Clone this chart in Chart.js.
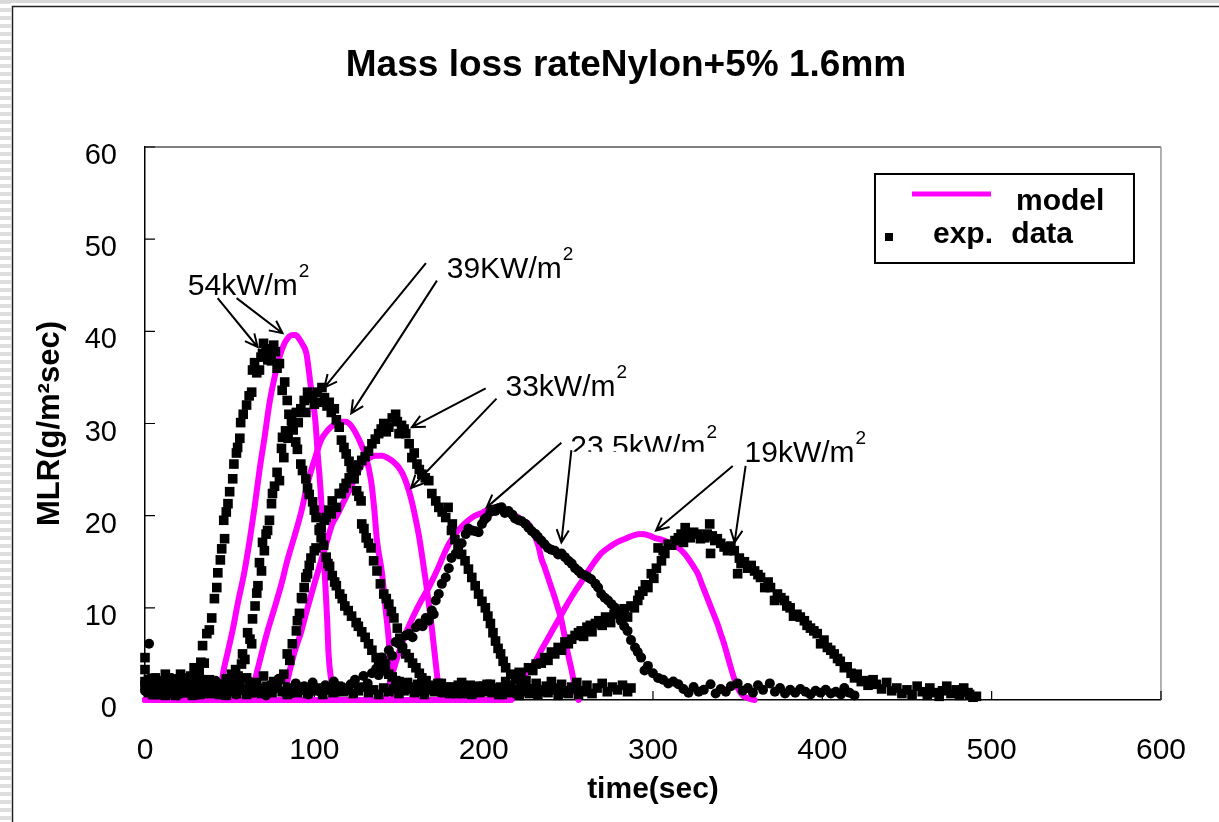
<!DOCTYPE html>
<html>
<head>
<meta charset="utf-8">
<title>Mass loss rate Nylon+5% 1.6mm</title>
<script src="https://cdn.jsdelivr.net/npm/chart.js@4.4.1/dist/chart.umd.min.js"></script>
<style>
  html, body { margin: 0; padding: 0; background: #fff; }
  #wrap { width: 1219px; height: 822px; }
</style>
</head>
<body>
<div id="wrap"><canvas id="mlrChart" width="1219" height="822"></canvas></div>
<script>
const FONT = '"Liberation Sans", Arial, Helvetica, sans-serif';
const MAGENTA = '#ff00ff';

const chartTitle = 'Mass loss rateNylon+5% 1.6mm';
const xTitle = 'time(sec)';
const yTitle = 'MLR(g/m\u00b2sec)';
const xTicks = [0, 100, 200, 300, 400, 500, 600];
const yTicks = [0, 10, 20, 30, 40, 50, 60];

// model curves, [time (s), MLR (g/m2 s)]
const model54 = [[0,0],[44,0],[46,2.8],[49,5.3],[52,7.8],[54.7,10.4],[58.8,14],[61.8,17.3],[64.7,20.9],[67.6,24.9],[70.6,28.5],[73.5,32.2],[76.5,35],[79.4,37.2],[82.4,38.7],[85,39.4],[87,39.6],[89,39.6],[91,39.2],[93,38.6],[95.3,37.6],[98,33.9],[100.6,30.3],[102,26.7],[103.6,23],[104.7,19.5],[105.5,15.9],[106.6,12.2],[107.6,8.6],[108.4,5],[110,2.1],[111,0.8],[112,0]];
const model39 = [[0,0],[62,0],[64.7,2],[68.8,5],[72.4,7.5],[76.5,10],[80.6,12.6],[84,15.1],[88,17.6],[92.4,20.5],[96,23.5],[100,26],[104,28.2],[107.6,29.2],[111,29.8],[115,30.2],[118.6,30.2],[122,29.7],[126.5,28.2],[130.6,26.3],[133.5,23.8],[135.3,20.9],[137,17.3],[140,13.7],[142,10],[144,6.4],[145,3.5],[146,1.7],[147,0]];
const model33 = [[0,0],[82,0],[84,2],[88,5],[92.4,7.5],[96,10],[100,12.6],[104,15.1],[107.6,17.3],[110.6,19.1],[113,19.9],[117.6,21.6],[120.6,22.7],[124,24.1],[128,25.5],[132,26.2],[136,26.5],[140,26.5],[144,26.2],[147,25.8],[150,25.2],[153,24.2],[156,22.6],[158,21.2],[160,19.5],[161.8,17.8],[163.5,15.8],[165,13.9],[166.5,12],[168,9.9],[169.4,7.8],[170.6,5.8],[171.7,4],[172.6,2.5],[173.5,1.2],[174.5,0]];
const model23 = [[0,0],[141,0],[144,1.5],[147,3.4],[150,5.2],[153,6.8],[156,8.1],[159,9.3],[162,10.4],[165,11.4],[167.6,12.2],[170.5,13.3],[173.5,14.5],[176.5,15.8],[179.4,16.9],[182,17.7],[185,18.4],[188,19],[191,19.5],[195,20],[199,20.3],[202,20.6],[205,20.7],[209,20.7],[213,20.5],[217,20.2],[220.6,19.8],[223.5,19.4],[226.5,19.1],[228.5,18.5],[230.6,17.6],[232.5,16.6],[234,15.4],[236,14.4],[238,13.3],[240,12.2],[242,11.1],[244,9.9],[246,8.6],[247.5,7.2],[249,5.7],[250.5,4.4],[252,3.2],[253,2.2],[254,1.3],[255,0.5],[256,0]];
const model19 = [[0,0],[216,0],[219,0.6],[222,2],[226,3.1],[230.6,4.2],[234,5.4],[238,6.7],[242,8],[246,9.3],[250,10.6],[254,11.8],[258,12.9],[261.8,14],[265.5,15],[269.4,15.9],[273.5,16.5],[277.6,17],[281,17.3],[285,17.6],[289,17.9],[293,18],[297,17.9],[301,17.6],[305,17.4],[309,17.1],[312,16.8],[315,16.5],[318,16],[320.6,15.4],[323.5,14.6],[326.5,13.7],[329,12.5],[332,11.1],[335,9.7],[338,8.3],[340,7.2],[342,6.1],[344,4.8],[346,3.5],[348,2.3],[350,1.3],[353,0.5],[356,0.2],[360,0]];

// measured points, [time (s), MLR (g/m2 s)]
const exp54 = [[0,4.6],[1,1.5],[2,2.2],[3,0.9],[4,1.8],[5,1.1],[6,2.4],[7,0.7],[8,1.6],[9,1.2],[10,2.0],[11,0.8],[12,2.8],[13,1.4],[14,1.0],[15,2.1],[16,1.3],[17,0.9],[18,1.7],[19,2.3],[20,1.1],[21,2.8],[22,1.5],[23,1.9],[24,1.2],[25,2.4],[26,1.8],[27,2.6],[28,2.2],[29,3.5],[30,2.9],[31,2.5],[32,3.2],[33,4.1],[34,5.9],[35,4.0],[36.5,7.2],[38,7.6],[39.4,8.9],[41,11.0],[42.4,12.2],[43,13.8],[44.5,15.2],[45.3,16.4],[46.5,19.5],[47,17.5],[48,20.4],[49,21.3],[50,22.6],[51.8,24.0],[52.5,25.6],[54,26.8],[54.7,27.4],[56,28.4],[56.5,30.1],[58,31.0],[60,32.0],[61.5,33.0],[63,33.4],[63.5,35.8],[64.7,36.6],[66,35.5],[67.6,35.8],[68.5,37.2],[69.4,37.6],[70,38.7],[71.5,38.1],[72.5,36.9],[74,37.4],[74.7,36.8],[76,38.5],[77,37.8],[78,36.0],[79.4,36.5],[81,33.6],[82.5,34.5],[84,32.5],[85,31.0],[87,29.5],[89,28.0],[90,27.2],[92,25.6],[93,24.9],[95,24.0],[96,23.0],[97,22.3],[99,21.5],[100,20.6],[101,19.8],[103,18.5],[104,17.6],[105.5,16.8],[107,15.5],[108,14.8],[109,14.5],[110.6,13.5],[112,12.8],[113,12.4],[115,11.5],[116.5,11.0],[118,10.2],[120,9.7],[122,9.1],[124.7,8.4],[126,8.0],[128,7.4],[130,6.8],[132,6.1],[134,5.4],[136.5,4.6],[138,4.2],[140,3.7],[142,3.2],[144,2.8],[146,2.5],[148,2.1],[150,2.0],[152,1.6],[155,1.9],[158,1.2],[161,1.7],[164,0.9],[167,1.5],[170,1.1],[173,1.8],[176,0.8],[179,1.4],[182,1.0],[185,1.6],[188,0.7],[191,1.3],[194,1.1],[197,0.8],[200,1.5],[203,0.9],[206,1.2],[209,0.6],[212,1.3],[215,0.8],[218,1.1],[221,0.5],[224,1.0],[227,0.7],[230,0.9]];
const exp39 = [[0,3.3],[1.5,1.0],[3,1.9],[4.5,0.6],[6,1.4],[7.5,2.1],[9,1.0],[10.5,1.7],[12,0.5],[13.5,1.3],[15,2.0],[16.5,0.9],[18,1.5],[19.5,0.7],[21,1.2],[22.5,1.9],[24,0.8],[25.5,1.4],[27,1.0],[28.5,1.8],[30,0.6],[31.5,1.3],[33,2.2],[34.5,1.0],[36,1.6],[37.5,0.8],[39,1.4],[40.5,2.0],[42,1.1],[43.5,1.7],[45,0.9],[46.5,1.5],[48,2.3],[49.5,1.2],[51,2.8],[52,2.1],[53.5,3.3],[55,2.6],[57,3.9],[57.6,5.0],[59,4.4],[60.6,7.3],[62,6.6],[63,6.1],[63.5,8.8],[65,10.2],[66,11.6],[66.7,12.4],[67.6,14.9],[68.8,14.0],[69.4,17.1],[70.5,16.2],[71.5,18.0],[72.4,18.4],[73.5,19.5],[74.7,21.3],[75.3,22.4],[76.5,23.2],[78,24.7],[79.4,23.8],[80.6,27.3],[81.2,28.5],[82,26.3],[83,29.2],[84.5,28.4],[86.5,30.3],[87.5,29.3],[89.4,31.2],[90.5,30.1],[92,31.6],[94,32.5],[95,31.2],[96,33.4],[97.5,32.7],[99,33.0],[100,32.1],[101.8,33.4],[103,32.3],[104.5,33.9],[106,32.8],[107.5,31.9],[108.8,32.3],[110,31.2],[111.8,31.6],[113,30.4],[114.7,29.6],[116,28.2],[117.5,27.4],[118.8,26.7],[120.5,25.9],[121.8,25.2],[123.5,24.0],[125,22.7],[126.3,22.1],[127.6,21.6],[128,19.1],[129.3,18.6],[130.6,17.6],[132,17.0],[133.5,16.5],[135,15.1],[137,14.0],[139,12.6],[141,11.5],[142.5,11.0],[144,10.4],[145.5,9.6],[147,8.9],[149,7.8],[150.5,6.7],[152,5.6],[154,5.0],[156,4.6],[158,4.0],[160,3.5],[162,2.9],[163.5,2.4],[166,2.1],[169,1.6],[172,1.2],[175,1.8],[178,0.9],[181,1.4],[184,0.7],[187,1.9],[190,1.1],[193,0.6],[196,1.5],[199,1.0],[202,1.7],[205,0.8],[208,1.3],[211,0.6],[214,1.6],[217,1.0],[220,0.7],[223,1.4],[226,0.9],[229,1.2],[232,0.6],[235,1.1],[238,0.8],[241,1.3],[244,0.5],[247,1.0],[250,0.7],[253,1.2],[256,0.6],[259,0.9]];
const exp33 = [[0,1.6],[2,0.8],[4,2.3],[6,1.2],[8,0.6],[10,1.8],[12,1.0],[14,2.4],[16,0.7],[18,1.5],[20,1.1],[22,2.0],[24,0.9],[26,1.6],[28,0.5],[30,1.3],[32,1.9],[34,0.8],[36,1.4],[38,2.2],[40,1.0],[42,1.7],[44,0.6],[46,1.2],[48,2.0],[50,0.9],[52,1.5],[54,0.7],[56,1.8],[58,1.1],[60,2.4],[62,1.3],[64,0.8],[66,1.9],[68,1.2],[70,2.6],[72,1.5],[74,0.9],[76,2.0],[78,1.4],[80,2.2],[82,2.8],[84,5.0],[85.5,4.3],[87,6.1],[89.4,7.5],[90,8.6],[91.2,9.4],[92.4,11.1],[93,11.0],[94,12.2],[95,13.3],[96,13.7],[97,14.6],[98,15.4],[100,16.2],[101,16.5],[103,18.4],[104,18.7],[106,19.5],[107,19.8],[108.5,20.6],[110,20.2],[110.6,21.6],[113,20.9],[114.7,22.4],[116,22.4],[117.5,23.0],[118.8,23.5],[120.6,24.1],[122.5,24.5],[124.7,24.9],[126,25.5],[128,26.0],[130,26.4],[132,27.0],[134,27.8],[136,28.3],[138,28.9],[139.5,29.4],[141,30.0],[142.5,29.1],[144,29.6],[146,30.6],[148,31.0],[149,30.2],[150,28.9],[151.5,29.8],[153,29.4],[154,28.9],[156,27.8],[157.6,26.3],[159,26.8],[160.6,25.6],[162,25.0],[163.5,24.5],[165.5,24.1],[167.6,23.8],[169.4,22.4],[171.7,21.6],[173.5,20.9],[175.5,20.4],[177.6,19.8],[179,20.9],[181,18.4],[181.5,19.1],[183,17.4],[185,16.5],[187,15.8],[189,15.1],[191,14.2],[193,13.3],[195,12.4],[197,11.5],[199,10.7],[201,10.0],[202.5,9.1],[204,8.3],[205.5,7.3],[207,6.4],[208.5,5.6],[210,5.0],[211.5,4.2],[213,3.5],[216,2.8],[219,2.4],[222,1.6],[225,2.1],[228,1.2],[231,1.8],[234,0.9],[237,1.5],[240,2.0],[243,1.1],[246,1.7],[249,0.8],[252,1.4],[255,1.9],[258,1.0],[261,1.6],[264,0.7],[267,1.3],[270,1.8],[273,0.9],[276,1.4],[279,1.1],[282,1.6],[285,0.9],[287,1.3]];
const exp23 = [[0,1.0],[2.4,6.1],[4,1.8],[6.5,0.7],[9,1.4],[11.5,2.2],[14,0.9],[16.5,1.6],[19,0.5],[21.5,1.2],[24,2.0],[26.5,0.8],[29,1.5],[31.5,1.1],[34,0.6],[36.5,1.7],[39,1.0],[41.5,2.1],[44,0.7],[46.5,1.3],[49,0.9],[51.5,1.8],[54,0.6],[56.5,1.4],[59,1.0],[61.5,2.0],[64,0.8],[66.5,1.5],[69,1.1],[71.5,0.5],[74,1.6],[76.5,1.2],[79,2.3],[81.5,0.9],[84,1.4],[86.5,0.7],[89,1.8],[91.5,1.0],[94,1.5],[96.5,0.6],[99,1.9],[101.5,1.2],[104,0.8],[106.5,1.6],[109,1.1],[111.5,2.0],[114,0.9],[116.5,1.4],[119,1.0],[121.5,1.7],[124,2.2],[126.5,1.3],[129,2.6],[131.5,1.8],[134,2.9],[136.5,3.4],[138,2.7],[140,4.6],[142,4.0],[144,5.4],[146,4.8],[148,6.3],[150,6.1],[152,5.8],[154,7.0],[156,7.2],[158,6.8],[160,7.9],[162,8.3],[164,8.0],[165.8,8.9],[167.6,8.6],[169.4,9.7],[170.5,9.3],[171.7,10.8],[173.5,11.5],[175.3,12.6],[177.6,13.3],[179.4,14.3],[181,15.4],[183.5,15.9],[185,16.6],[187,17.0],[189.4,18.0],[191,18.6],[193,18.4],[195,18.3],[197,18.2],[199,19.1],[200.5,19.6],[201.8,19.8],[204,20.4],[207,20.5],[209,20.8],[210.6,20.9],[212.5,20.3],[214.7,20.5],[217,20.1],[218.5,19.7],[220.6,19.5],[222.5,19.4],[224.7,19.1],[226.5,18.7],[228.5,18.3],[230.6,18.0],[232,17.7],[234,17.3],[236,16.9],[238,16.5],[240,16.3],[242,16.2],[244,15.8],[246,15.9],[248,15.5],[250,15.1],[252,14.8],[254,14.3],[256,14.0],[257.6,13.7],[260,13.5],[261.8,13.3],[263.5,13.1],[266,12.6],[267.6,12.2],[269.4,11.5],[271.5,11.1],[273.5,10.8],[275.5,10.4],[277.6,10.0],[279.5,9.3],[281,8.6],[283,8.0],[285,7.5],[287,6.5],[289.4,5.7],[291,5.2],[293,4.6],[295,3.2],[297,3.7],[300,2.9],[303,2.4],[306,2.2],[309,1.8],[312,2.0],[315,1.7],[318,1.2],[321,0.8],[324,1.4],[327,0.9],[330,1.1],[334,1.7],[337,0.7],[340,1.2],[343,0.9],[346,1.5],[350,1.8],[353,1.0],[356,1.3],[359,0.8],[362,1.6],[365,1.1],[369,1.8],[372,0.9],[375,1.3],[378,0.7],[381,1.1],[384,0.8],[387,1.2],[390,0.9],[393,0.6],[396,1.0],[399,0.8],[402,1.1],[405,0.7],[408,0.9],[411,0.6],[413,1.3],[416,0.8],[419,0.5]];
const exp19 = [[0,2.0],[3,1.1],[6,0.6],[9,1.5],[12,0.9],[15,1.3],[18,0.5],[21,1.1],[24,0.8],[27,1.4],[30,0.6],[33,1.0],[36,1.6],[39,0.7],[42,1.2],[45,0.9],[48,0.5],[51,1.3],[54,0.8],[57,1.1],[60,0.6],[63,1.4],[66,0.9],[69,0.7],[72,1.2],[75,0.8],[78,1.5],[81,0.9],[84,0.6],[87,1.2],[90,0.8],[93,1.4],[96,0.7],[99,1.0],[102,1.3],[105,0.6],[108,1.1],[111,0.8],[114,1.5],[117,0.9],[120,1.2],[123,0.7],[126,1.0],[129,1.4],[132,0.8],[135,1.1],[138,0.6],[141,1.3],[144,0.9],[147,1.2],[150,0.7],[153,1.0],[156,1.4],[159,0.8],[162,1.1],[165,0.6],[168,1.3],[171,0.9],[174,1.5],[177,1.0],[180,0.7],[183,1.2],[186,1.4],[189,0.8],[192,1.6],[195,1.1],[198,0.9],[201,1.3],[204,1.7],[207,1.0],[210,1.4],[213,2.0],[216,1.3],[219,2.2],[221,3.0],[222,2.6],[224,2.1],[226.5,3.5],[229,3.2],[231,3.9],[234,4.0],[236,4.6],[238,4.3],[240,5.2],[242,5.0],[244,5.7],[246,5.4],[248,6.3],[250,6.1],[252,6.6],[254,7.0],[256,7.3],[257.6,7.5],[259,6.9],[261,7.9],[263,8.1],[264,7.4],[266,8.3],[268,8.6],[270,8.1],[272,9.0],[273.5,8.9],[275,8.4],[277,9.3],[279,9.6],[281,9.3],[283,9.9],[285,9.0],[287,10.2],[289,10.0],[291,10.8],[292,11.4],[294,11.8],[295.5,12.5],[297,12.2],[299,13.7],[300.5,13.2],[302,14.3],[303,16.5],[305,15.1],[306,16.2],[307,15.9],[309,16.9],[311,16.8],[313,17.3],[315,17.6],[316.6,18.0],[318,17.1],[319,18.7],[321,17.9],[322,17.6],[324,18.2],[326.5,18.0],[328,17.5],[330.6,17.6],[332,18.0],[333.5,19.1],[334,15.9],[335,17.8],[336.5,17.3],[338,17.5],[340,17.0],[342,16.6],[344,16.2],[346,16.7],[348,16.2],[350,13.7],[351,15.4],[352,14.8],[354,15.0],[356,14.3],[358,14.6],[360,14.0],[362,13.6],[363.5,13.3],[366,12.2],[368,12.8],[369.4,12.2],[371.8,10.8],[373.5,11.5],[375.5,11.1],[377.6,10.8],[379,10.2],[381,10.0],[383,9.1],[385,9.3],[387,9.0],[389.4,8.6],[391,8.1],[393,7.8],[395,7.5],[397,7.2],[399,6.1],[401,6.5],[403,5.7],[405,5.4],[407,5.0],[409,4.5],[410.6,4.2],[413,3.5],[414.7,3.6],[417,2.9],[419,2.4],[420.6,2.8],[423,2.0],[424.7,2.1],[427,1.6],[430,2.2],[432,1.7],[435,1.2],[438,1.9],[441,1.0],[444,1.3],[447,0.7],[450,1.1],[453,0.6],[456,1.5],[459,0.9],[462,0.5],[463.5,1.3],[466,0.8],[469,0.4],[471,1.0],[473.5,1.5],[476,0.7],[479,1.1],[481,0.5],[483.5,1.3],[486,0.8],[487,0.6],[489,0.3],[491,0.4]];

// heat flux captions: text anchor and arrow lines, all in data units
const fluxLabels = [
  { text: '54kW/m', at: [25.3, 43.9], arrows: [[42.9, 43.6, 66.5, 38.3], [54.1, 43.6, 81.2, 39.8]] },
  { text: '39KW/m', at: [178.2, 45.8], arrows: [[165.9, 47.4, 105.9, 33.9], [172.4, 45.5, 121.8, 31.1]] },
  { text: '33kW/m', at: [212.9, 33.0], arrows: [[201.2, 33.8, 157.6, 29.6], [207.6, 32.7, 157.1, 23.0]] },
  { text: '23.5kW/m', at: [251.2, 26.5], cut: 4, arrows: [[245.9, 27.9, 201.8, 20.9], [251.8, 27.1, 245.9, 17.1]] },
  { text: '19kW/m', at: [354.1, 25.8], arrows: [[347.1, 25.4, 301.8, 18.4], [354.7, 25.4, 348.2, 17.1]] }
];

function drawArrow(ctx, x1, y1, x2, y2) {
  const ang = Math.atan2(y2 - y1, x2 - x1);
  const len = 14, spread = 0.45;
  ctx.beginPath();
  ctx.moveTo(x1, y1);
  ctx.lineTo(x2, y2);
  ctx.moveTo(x2 - len * Math.cos(ang - spread), y2 - len * Math.sin(ang - spread));
  ctx.lineTo(x2, y2);
  ctx.lineTo(x2 - len * Math.cos(ang + spread), y2 - len * Math.sin(ang + spread));
  ctx.stroke();
}

const decor = {
  id: 'decor',
  beforeDraw(chart) {
    const { ctx, width, height } = chart;
    ctx.save();
    ctx.fillStyle = '#fff';
    ctx.fillRect(0, 0, width, height);
    // striped strip on the left and the outer frame
    ctx.fillStyle = '#dedede';
    for (let yy = 0; yy < height; yy += 8) ctx.fillRect(0, yy, 11, 4);
    ctx.fillStyle = '#d8d8d8';
    ctx.fillRect(0, 0, width, 3);
    ctx.strokeStyle = '#222';
    ctx.lineWidth = 1.5;
    ctx.beginPath();
    ctx.moveTo(12.5, height);
    ctx.lineTo(12.5, 6.5);
    ctx.lineTo(width, 6.5);
    ctx.stroke();

    ctx.fillStyle = '#000';
    ctx.font = 'bold 37px ' + FONT;
    ctx.textAlign = 'center';
    ctx.textBaseline = 'alphabetic';
    ctx.fillText(chartTitle, 626, 76);
    ctx.restore();
  },
  beforeDatasetsDraw(chart) {
    const { ctx, chartArea: a, scales: { x, y } } = chart;
    ctx.save();
    ctx.lineWidth = 1.5;
    ctx.strokeStyle = '#555';
    ctx.beginPath();
    ctx.moveTo(a.left, a.top);
    ctx.lineTo(a.right, a.top);
    ctx.stroke();
    ctx.strokeStyle = '#999';
    ctx.beginPath();
    ctx.moveTo(a.right, a.top);
    ctx.lineTo(a.right, a.bottom);
    ctx.stroke();

    // tick marks point into the plot
    ctx.strokeStyle = '#000';
    ctx.lineWidth = 1.2;
    ctx.beginPath();
    y.ticks.forEach(t => {
      const py = y.getPixelForValue(t.value);
      ctx.moveTo(a.left, py);
      ctx.lineTo(a.left + 10, py);
    });
    x.ticks.forEach(t => {
      const px = x.getPixelForValue(t.value);
      ctx.moveTo(px, a.bottom);
      ctx.lineTo(px, a.bottom - 9);
    });
    ctx.stroke();
    ctx.restore();
  },
  afterDatasetsDraw(chart) {
    const { ctx, chartArea: a, scales: { x, y } } = chart;
    const ds = chart.data.datasets;
    ctx.save();
    ctx.strokeStyle = '#000';
    ctx.fillStyle = '#000';
    ctx.lineWidth = 2;
    ctx.textAlign = 'left';
    ctx.textBaseline = 'alphabetic';

    fluxLabels.forEach(lab => {
      lab.arrows.forEach(([t1, v1, t2, v2]) => {
        drawArrow(ctx, x.getPixelForValue(t1), y.getPixelForValue(v1), x.getPixelForValue(t2), y.getPixelForValue(v2));
      });
      const tx = x.getPixelForValue(lab.at[0]);
      const ty = y.getPixelForValue(lab.at[1]);
      ctx.font = '30px ' + FONT;
      const w = ctx.measureText(lab.text).width;
      ctx.save();
      if (lab.cut) {
        ctx.beginPath();
        ctx.rect(tx - 4, ty - 50, w + 8, 50 - lab.cut);
        ctx.clip();
      }
      ctx.fillText(lab.text, tx, ty);
      ctx.restore();
      ctx.font = '19px ' + FONT;
      ctx.fillText('2', tx + w + 1, ty - 18);
    });

    // legend box
    const modelSet = ds.find(d => d.label === 'model');
    const expSet = ds.find(d => d.label === 'exp. data');
    const lx = a.right - 286, ly = a.top + 27;
    ctx.lineWidth = 2;
    ctx.strokeStyle = '#000';
    ctx.strokeRect(lx, ly, 259, 89);
    ctx.strokeStyle = modelSet.borderColor;
    ctx.lineWidth = 5;
    ctx.beginPath();
    ctx.moveTo(lx + 37, ly + 20);
    ctx.lineTo(lx + 116, ly + 20);
    ctx.stroke();
    ctx.fillStyle = expSet.backgroundColor;
    ctx.fillRect(lx + 10, ly + 59, 8, 8);
    ctx.fillStyle = '#000';
    ctx.font = 'bold 30px ' + FONT;
    ctx.fillText(modelSet.label, lx + 141, ly + 36);
    ctx.wordSpacing = '10px';
    ctx.fillText(expSet.label, lx + 58, ly + 69);
    ctx.restore();
  }
};

const expStyle = {
  showLine: false,
  pointStyle: 'rect',
  pointRadius: 6.8,
  pointBorderWidth: 0,
  backgroundColor: '#000',
  borderColor: '#000',
  clip: false,
  order: 1
};
const modelStyle = {
  label: 'model',
  showLine: true,
  borderColor: MAGENTA,
  backgroundColor: MAGENTA,
  borderWidth: 6,
  pointRadius: 0,
  cubicInterpolationMode: 'monotone',
  borderCapStyle: 'round',
  borderJoinStyle: 'round',
  clip: false,
  order: 2
};

const datasets = [
  { ...expStyle, label: 'exp. data', data: exp54 },
  { ...expStyle, label: 'exp. 39', data: exp39 },
  { ...expStyle, label: 'exp. 33', data: exp33 },
  { ...expStyle, label: 'exp. 23.5', data: exp23, pointStyle: 'circle', pointRadius: 5 },
  { ...expStyle, label: 'exp. 19', data: exp19 },
  { ...modelStyle, data: model54 },
  { ...modelStyle, data: model39 },
  { ...modelStyle, data: model33 },
  { ...modelStyle, data: model23 },
  { ...modelStyle, data: model19 }
];

const ctx = document.getElementById('mlrChart').getContext('2d');
const chart = new Chart(ctx, {
  type: 'scatter',
  data: { datasets: datasets },
  options: {
    responsive: false,
    animation: false,
    events: [],
    layout: { padding: { top: 147, right: 54, bottom: 0, left: 0 } },
    plugins: {
      legend: { display: false },
      tooltip: { enabled: false },
      title: { display: false }
    },
    scales: {
      x: {
        type: 'linear',
        min: xTicks[0],
        max: xTicks[xTicks.length - 1],
        ticks: { stepSize: xTicks[1] - xTicks[0], padding: 33, color: '#000', font: { family: FONT, size: 30 } },
        grid: { display: false, drawTicks: false },
        border: { display: true, color: '#000', width: 1.5 },
        title: { display: true, text: xTitle, color: '#000', font: { family: FONT, size: 30, weight: 'bold' }, padding: { top: 0, bottom: 14 } },
        afterFit: s => { s.height = 122; }
      },
      y: {
        type: 'linear',
        min: yTicks[0],
        max: yTicks[yTicks.length - 1],
        ticks: { stepSize: yTicks[1] - yTicks[0], padding: 28, labelOffset: 9, color: '#000', font: { family: FONT, size: 29 } },
        grid: { display: false, drawTicks: false },
        border: { display: true, color: '#000', width: 1.5 },
        title: { display: true, text: yTitle, color: '#000', font: { family: FONT, size: 31, weight: 'bold' }, padding: { top: 32, bottom: 0 } },
        afterFit: s => { s.width = 145; }
      }
    }
  },
  plugins: [decor]
});
</script>
</body>
</html>
